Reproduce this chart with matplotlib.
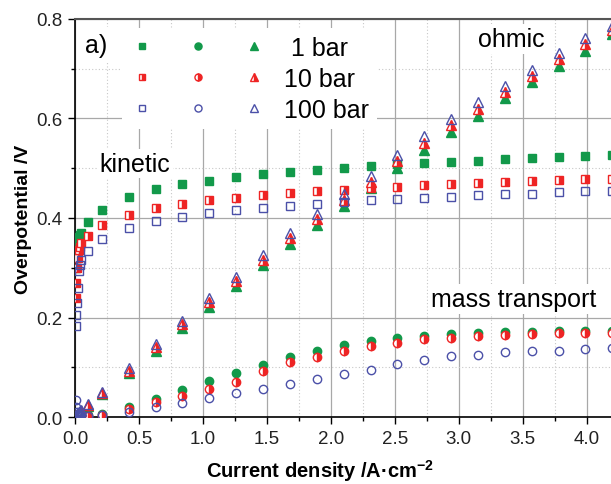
import numpy as np
import matplotlib
matplotlib.use("Agg")
import matplotlib.pyplot as plt
from matplotlib.ticker import MultipleLocator, FormatStrFormatter

plt.rcParams['font.family'] = ['Liberation Sans', 'DejaVu Sans']
plt.rcParams['mathtext.fontset'] = 'custom'
plt.rcParams['mathtext.rm'] = 'Liberation Sans'
plt.rcParams['mathtext.bf'] = 'Liberation Sans:bold'

# current density / A cm-2
j = [0.005, 0.01, 0.015, 0.02, 0.03, 0.04, 0.05, 0.10, 0.21, 0.42, 0.63, 0.84,
     1.05, 1.26, 1.47, 1.68, 1.89, 2.10, 2.31, 2.52, 2.73, 2.94, 3.15, 3.36,
     3.57, 3.78, 3.99, 4.20]

# kinetic overpotential (squares)
kin_1 = [0.300, 0.330, 0.345, 0.355, 0.362, 0.366, 0.370, 0.392, 0.416, 0.442,
         0.458, 0.468, 0.475, 0.482, 0.488, 0.492, 0.497, 0.501, 0.505, 0.508,
         0.511, 0.513, 0.515, 0.518, 0.520, 0.522, 0.525, 0.526]
kin_10 = [0.240, 0.270, 0.300, 0.320, 0.335, 0.342, 0.350, 0.364, 0.386, 0.406,
          0.420, 0.429, 0.436, 0.441, 0.446, 0.450, 0.454, 0.457, 0.461, 0.463,
          0.466, 0.468, 0.471, 0.472, 0.474, 0.476, 0.478, 0.479]
kin_100 = [0.183, 0.205, 0.230, 0.260, 0.293, 0.305, 0.315, 0.334, 0.358, 0.380,
           0.394, 0.402, 0.410, 0.416, 0.421, 0.425, 0.429, 0.433, 0.436, 0.439,
           0.441, 0.443, 0.446, 0.448, 0.449, 0.452, 0.454, 0.455]

# mass transport overpotential (circles)
mt_1 = [0.000, 0.000, 0.001, 0.001, 0.002, 0.002, 0.003, 0.004, 0.006, 0.020,
        0.036, 0.054, 0.072, 0.088, 0.105, 0.121, 0.133, 0.144, 0.152, 0.158,
        0.163, 0.166, 0.169, 0.170, 0.171, 0.172, 0.172, 0.172]
mt_10 = [0.000, 0.000, 0.001, 0.001, 0.002, 0.002, 0.003, 0.003, 0.005, 0.016,
         0.030, 0.042, 0.056, 0.071, 0.092, 0.110, 0.121, 0.133, 0.143, 0.149,
         0.156, 0.159, 0.163, 0.165, 0.167, 0.168, 0.168, 0.168]
mt_100 = [0.034, 0.020, 0.010, 0.006, 0.004, 0.003, 0.002, 0.002, 0.004, 0.010,
          0.020, 0.028, 0.038, 0.049, 0.057, 0.066, 0.077, 0.086, 0.095, 0.107,
          0.115, 0.122, 0.125, 0.130, 0.133, 0.133, 0.136, 0.139]

# ohmic overpotential (triangles)
ohm_1 = [0.002, 0.004, 0.005, 0.006, 0.008, 0.010, 0.012, 0.022, 0.046, 0.088,
         0.133, 0.179, 0.221, 0.263, 0.306, 0.348, 0.386, 0.424, 0.460, 0.501,
         0.537, 0.573, 0.605, 0.641, 0.673, 0.705, 0.736, 0.770]
ohm_10 = [0.002, 0.004, 0.005, 0.007, 0.009, 0.011, 0.013, 0.024, 0.048, 0.093,
          0.140, 0.186, 0.231, 0.273, 0.316, 0.359, 0.398, 0.437, 0.473, 0.514,
          0.551, 0.586, 0.619, 0.653, 0.686, 0.719, 0.750, 0.778]
ohm_100 = [0.003, 0.005, 0.007, 0.009, 0.011, 0.013, 0.015, 0.026, 0.050, 0.098,
           0.147, 0.193, 0.239, 0.282, 0.326, 0.370, 0.408, 0.448, 0.485, 0.527,
           0.565, 0.599, 0.633, 0.665, 0.698, 0.732, 0.762, 0.786]

pressures = [' 1 bar', '10 bar', '100 bar']

green = '#12994a'
red = '#ee2424'
blue = '#4b50a8'

fig = plt.figure(figsize=(6.11, 4.85), dpi=100)
ax = fig.add_axes([0.1228, 0.138, 0.8772, 0.821])

styles = [
    dict(color=green, mfc=green, mec=green),
    dict(color=red, mec=red, fillstyle='right', mfc=red, markerfacecoloralt='white'),
    dict(color=blue, mec=blue, mfc='none'),
]
series = [(kin_1, mt_1, ohm_1), (kin_10, mt_10, ohm_10), (kin_100, mt_100, ohm_100)]

handles = {'s': [], 'o': [], '^': []}
for (kin, mt, ohm), st in zip(series, styles):
    h1, = ax.plot(j, kin, 's', ms=5.5, mew=1.0, ls='none', zorder=4, **st)
    h2, = ax.plot(j, mt, 'o', ms=6.0, mew=1.0, ls='none', zorder=4, **st)
    h3, = ax.plot(j, ohm, '^', ms=7.0, mew=1.0, ls='none', zorder=4, **st)
    handles['s'].append(h1)
    handles['o'].append(h2)
    handles['^'].append(h3)

ax.set_xlim(0, 4.19)
ax.set_ylim(0, 0.8)
ax.xaxis.set_major_locator(MultipleLocator(0.5))
ax.xaxis.set_minor_locator(MultipleLocator(0.25))
ax.yaxis.set_major_locator(MultipleLocator(0.2))
ax.yaxis.set_minor_locator(MultipleLocator(0.1))
ax.xaxis.set_major_formatter(FormatStrFormatter('%.1f'))
ax.yaxis.set_major_formatter(FormatStrFormatter('%.1f'))

ax.grid(which='major', color='#a8a8a8', lw=0.9, ls='-', zorder=0)
ax.grid(which='minor', color='#c8c8c8', lw=0.8, ls=(0, (1, 2)), zorder=0)
ax.set_axisbelow(True)

ax.tick_params(which='major', direction='out', length=5, width=1.0, labelsize=13.5,
               labelcolor='#222222', pad=4)
ax.tick_params(which='minor', direction='out', length=3, width=1.0)
ax.spines['right'].set_visible(False)
ax.spines['top'].set_color('#555555')
ax.spines['top'].set_linewidth(1.5)
for s in ('left', 'bottom'):
    ax.spines[s].set_linewidth(1.2)

ax.set_xlabel('Current density /A·cm$^{\\mathbf{-2}}$', fontsize=14.5, fontweight='bold')
ax.set_ylabel('Overpotential /V', fontsize=14, fontweight='bold')
ax.xaxis.set_label_coords(0.457, -0.1)
ax.yaxis.set_label_coords(-0.08, 0.5)

box = dict(facecolor='white', edgecolor='none', pad=2)
ax.text(0.19, 0.509, 'kinetic', fontsize=18, va='center', ha='left', bbox=box, zorder=3)
ax.text(3.41, 0.760, 'ohmic', fontsize=18, va='center', ha='center', bbox=box, zorder=3)
ax.text(3.43, 0.237, 'mass transport', fontsize=18, va='center', ha='center', bbox=box, zorder=3)
ax.text(0.019, 0.935, 'a)', fontsize=18, va='center', ha='left', transform=ax.transAxes,
        bbox=dict(facecolor='white', edgecolor='none', pad=4), zorder=3)

leg = ax.legend(handles['s'] + handles['o'] + handles['^'],
                [''] * 6 + pressures, ncol=3, fontsize=18, loc='upper left',
                bbox_to_anchor=(0.0877, 0.977), borderaxespad=0, borderpad=0.3,
                handlelength=1.0, handletextpad=0.7, columnspacing=0.54,
                labelspacing=0.28, markerscale=0.85, frameon=True, fancybox=False)
leg.get_frame().set_facecolor('white')
leg.get_frame().set_edgecolor('none')
leg.get_frame().set_alpha(1.0)
leg.set_zorder(3)

fig.savefig('out.png', dpi=100)
